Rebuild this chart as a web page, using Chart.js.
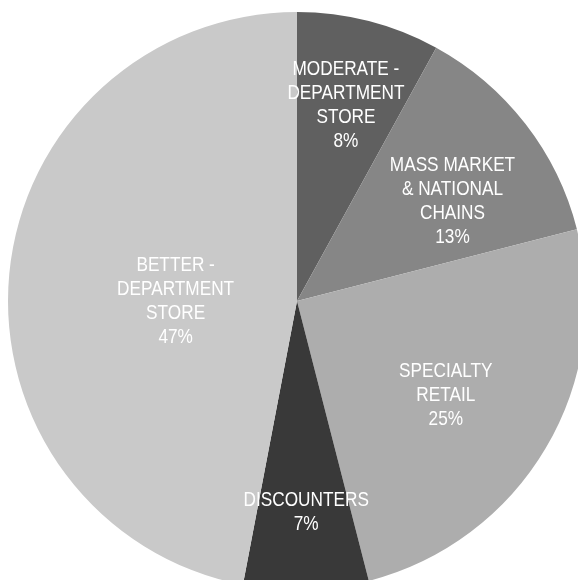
<!DOCTYPE html>
<html>
<head>
<meta charset="utf-8">
<title>Retail channel share</title>
<script src="https://cdn.jsdelivr.net/npm/chart.js@4/dist/chart.umd.min.js"></script>
<style>
  html, body { margin: 0; padding: 0; background: #fff; overflow: hidden; }
  #wrap { width: 594px; height: 602px; }
</style>
</head>
<body>
<div id="wrap"><canvas id="shareChart" width="594" height="602"></canvas></div>
<script>
// channel names, one array entry per drawn line
const channels = [
  ['MODERATE -', 'DEPARTMENT', 'STORE'],
  ['MASS MARKET', '& NATIONAL', 'CHAINS'],
  ['SPECIALTY', 'RETAIL'],
  ['DISCOUNTERS'],
  ['BETTER -', 'DEPARTMENT', 'STORE']
];
const shares = [8, 13, 25, 7, 47];
const sliceColors = ['#606060', '#868686', '#adadad', '#393939', '#c9c9c9'];

// where each label sits: fraction of the radius, and a small angle nudge (degrees)
const labelRadius = [0.70, 0.64, 0.61, 0.73, 0.42];
const labelNudge = [-0.4, 5, 1.8, -0.7, -5.4];

// condensed look: plain sans squeezed horizontally
const squeeze = 0.82;

const sliceLabels = {
  id: 'sliceLabels',
  afterDatasetsDraw(chart) {
    const ctx = chart.ctx;
    const meta = chart.getDatasetMeta(0);
    const lineH = 24;
    meta.data.forEach((arc, i) => {
      const p = arc.getProps(['x', 'y', 'startAngle', 'endAngle', 'outerRadius'], true);
      const mid = (p.startAngle + p.endAngle) / 2 + labelNudge[i] * Math.PI / 180;
      const r = p.outerRadius * labelRadius[i];
      const cx = p.x + Math.cos(mid) * r;
      const cy = p.y + Math.sin(mid) * r;
      const lines = channels[i].concat(shares[i] + '%');
      const top = cy - (lines.length - 1) * lineH / 2;
      lines.forEach((t, j) => {
        ctx.save();
        ctx.translate(cx, top + j * lineH);
        ctx.scale(squeeze, 1);
        ctx.fillStyle = '#ffffff';
        ctx.font = '21px "Liberation Sans", Arial, sans-serif';
        ctx.textAlign = 'center';
        ctx.textBaseline = 'middle';
        ctx.fillText(t, 0, 0);
        ctx.restore();
      });
    });
  }
};

new Chart(document.getElementById('shareChart'), {
  type: 'pie',
  data: {
    labels: channels.map(l => l.join(' ')),
    datasets: [{
      data: shares,
      backgroundColor: sliceColors,
      borderWidth: 0
    }]
  },
  options: {
    responsive: false,
    animation: false,
    devicePixelRatio: 1,
    layout: { padding: 8 },
    events: [],
    plugins: {
      legend: { display: false },
      tooltip: { enabled: false }
    }
  },
  plugins: [sliceLabels]
});
</script>
</body>
</html>
